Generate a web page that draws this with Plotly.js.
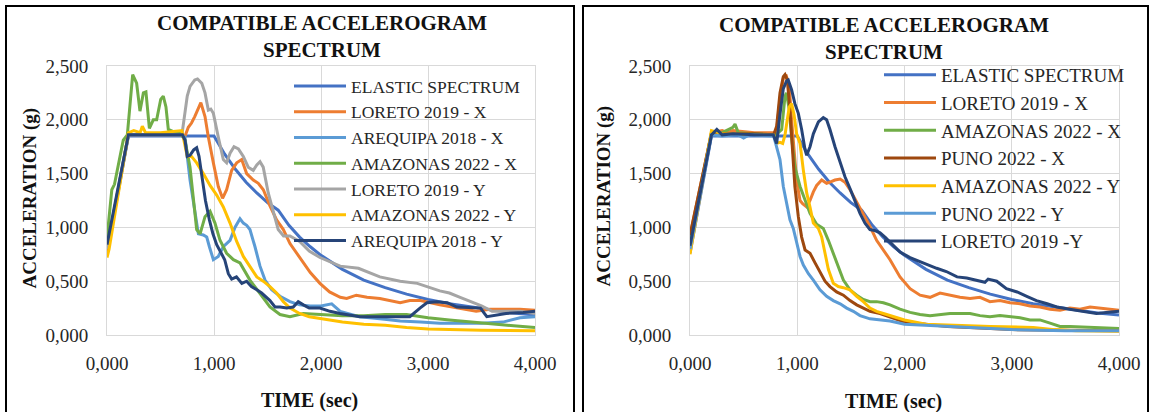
<!DOCTYPE html>
<html><head><meta charset="utf-8">
<script src="https://cdn.plot.ly/plotly-3.0.1.min.js"></script>
<style>html,body{margin:0;padding:0;background:#fff;} #chart{width:1152px;height:412px;}</style>
</head><body><div id="chart"></div>
<script>
// ---------- data (time in sec, acceleration in g) ----------
const elasticT = [0, 0.2, 1.0, 1.1, 1.2, 1.3, 1.4, 1.5, 1.6, 1.7, 1.8, 1.9, 2.0, 2.2, 2.4, 2.6, 2.8, 3.0, 3.2, 3.4, 3.6, 3.8, 4.0];
const elasticA = [0.76, 1.85, 1.85, 1.68, 1.54, 1.42, 1.32, 1.23, 1.16, 1.02, 0.91, 0.82, 0.74, 0.61, 0.51, 0.44, 0.38, 0.33, 0.29, 0.26, 0.23, 0.205, 0.185];

// left chart
const loretoXT_L = [0, 0.2, 0.7, 0.73, 0.76, 0.79, 0.82, 0.877, 0.916, 0.947, 0.994, 1.04, 1.08, 1.118, 1.165, 1.212, 1.259, 1.305, 1.367, 1.414, 1.461, 1.523, 1.585, 1.648, 1.71, 1.80, 1.90, 1.99, 2.08, 2.18, 2.24, 2.33, 2.43, 2.55, 2.74, 2.83, 2.93, 3.11, 3.30, 3.45, 3.58, 3.86, 4.0];
const loretoXA_L = [0.78, 1.86, 1.86, 1.85, 1.93, 1.97, 2.03, 2.16, 2.03, 1.84, 1.6, 1.38, 1.27, 1.35, 1.53, 1.6, 1.63, 1.5, 1.44, 1.41, 1.35, 1.2, 1.07, 0.98, 0.85, 0.72, 0.58, 0.48, 0.40, 0.35, 0.34, 0.37, 0.35, 0.34, 0.30, 0.32, 0.32, 0.28, 0.25, 0.22, 0.24, 0.24, 0.23];

const arequipaXT_L = [0, 0.2, 0.7, 0.729, 0.776, 0.82, 0.854, 0.9, 0.932, 0.957, 0.994, 1.04, 1.087, 1.15, 1.196, 1.243, 1.274, 1.305, 1.336, 1.383, 1.43, 1.477, 1.539, 1.617, 1.71, 1.80, 1.9, 2.0, 2.1, 2.18, 2.36, 2.55, 2.74, 2.93, 3.11, 3.3, 3.5, 3.7, 3.86, 4.0];
const arequipaXA_L = [0.8, 1.86, 1.86, 1.84, 1.44, 1.16, 0.94, 0.93, 0.91, 0.82, 0.70, 0.73, 0.82, 0.88, 1.0, 1.08, 1.04, 1.02, 0.98, 0.82, 0.64, 0.51, 0.42, 0.36, 0.31, 0.28, 0.27, 0.27, 0.29, 0.22, 0.17, 0.15, 0.13, 0.12, 0.11, 0.11, 0.11, 0.12, 0.16, 0.17];

const amazonasXT_L = [0, 0.045, 0.07, 0.152, 0.19, 0.24, 0.277, 0.308, 0.34, 0.364, 0.396, 0.433, 0.464, 0.502, 0.526, 0.551, 0.573, 0.62, 0.682, 0.729, 0.776, 0.807, 0.838, 0.87, 0.916, 0.963, 1.009, 1.056, 1.118, 1.181, 1.243, 1.336, 1.43, 1.523, 1.617, 1.71, 1.835, 2.0, 2.2, 2.4, 2.6, 2.8, 3.0, 3.2, 3.4, 3.6, 3.8, 4.0];
const amazonasXA_L = [0.9, 1.35, 1.40, 1.81, 1.86, 2.42, 2.34, 2.08, 2.25, 2.26, 1.92, 2.0, 2.0, 2.19, 2.22, 2.12, 1.91, 1.89, 1.88, 1.81, 1.56, 1.25, 0.98, 0.94, 1.10, 1.15, 1.04, 0.88, 0.76, 0.70, 0.67, 0.51, 0.39, 0.26, 0.19, 0.17, 0.20, 0.19, 0.18, 0.18, 0.19, 0.19, 0.16, 0.14, 0.12, 0.10, 0.085, 0.07];

const loretoYT_L = [0, 0.2, 0.7, 0.75, 0.776, 0.82, 0.846, 0.886, 0.916, 0.947, 0.97, 0.994, 1.04, 1.087, 1.118, 1.15, 1.187, 1.228, 1.274, 1.32, 1.367, 1.4, 1.43, 1.46, 1.507, 1.554, 1.6, 1.65, 1.71, 1.80, 1.89, 1.99, 2.18, 2.35, 2.55, 2.74, 2.9, 3.11, 3.2, 3.3, 3.5, 3.6, 3.86, 4.0];
const loretoYA_L = [0.8, 1.86, 1.86, 2.22, 2.31, 2.37, 2.38, 2.34, 2.25, 2.09, 2.1, 2.06, 1.84, 1.63, 1.6, 1.69, 1.75, 1.73, 1.66, 1.56, 1.53, 1.58, 1.61, 1.56, 1.32, 1.16, 0.98, 0.92, 0.92, 0.87, 0.78, 0.72, 0.64, 0.62, 0.54, 0.50, 0.48, 0.41, 0.39, 0.35, 0.27, 0.22, 0.22, 0.20];

const amazonasYT_L = [0, 0.02, 0.2, 0.25, 0.31, 0.33, 0.36, 0.5, 0.7, 0.75, 0.79, 0.838, 0.9, 0.963, 1.025, 1.087, 1.15, 1.212, 1.274, 1.336, 1.4, 1.46, 1.523, 1.585, 1.648, 1.71, 1.80, 1.89, 2.0, 2.2, 2.4, 2.6, 2.8, 3.0, 3.5, 4.0];
const amazonasYA_L = [0.72, 0.80, 1.88, 1.90, 1.88, 1.94, 1.88, 1.88, 1.90, 1.66, 1.66, 1.6, 1.5, 1.39, 1.3, 1.19, 1.04, 0.87, 0.73, 0.64, 0.54, 0.50, 0.45, 0.39, 0.31, 0.25, 0.20, 0.17, 0.15, 0.12, 0.10, 0.09, 0.07, 0.055, 0.045, 0.04];

const arequipaYT_L = [0, 0.2, 0.705, 0.729, 0.75, 0.776, 0.81, 0.838, 0.86, 0.89, 0.92, 0.957, 0.99, 1.025, 1.07, 1.1, 1.134, 1.165, 1.21, 1.26, 1.305, 1.35, 1.4, 1.445, 1.523, 1.57, 1.617, 1.68, 1.74, 1.787, 1.835, 1.89, 1.99, 2.084, 2.177, 2.364, 2.55, 2.738, 2.83, 2.925, 2.99, 3.08, 3.18, 3.27, 3.40, 3.49, 3.55, 3.61, 3.73, 3.89, 4.0];
const arequipaYA_L = [0.84, 1.86, 1.86, 1.81, 1.66, 1.67, 1.72, 1.74, 1.66, 1.47, 1.25, 1.07, 0.94, 0.84, 0.76, 0.70, 0.57, 0.52, 0.54, 0.48, 0.5, 0.45, 0.42, 0.39, 0.32, 0.26, 0.26, 0.25, 0.26, 0.31, 0.28, 0.25, 0.25, 0.22, 0.20, 0.17, 0.17, 0.17, 0.17, 0.25, 0.30, 0.31, 0.30, 0.26, 0.25, 0.25, 0.17, 0.18, 0.20, 0.21, 0.22];

// right chart
const loretoXT_R = [0, 0.2, 0.3, 0.35, 0.4, 0.6, 0.78, 0.802, 0.839, 0.87, 0.895, 0.926, 0.947, 0.97, 0.994, 1.026, 1.05, 1.088, 1.119, 1.15, 1.181, 1.228, 1.274, 1.305, 1.352, 1.4, 1.445, 1.492, 1.554, 1.616, 1.678, 1.74, 1.803, 1.865, 1.958, 2.052, 2.145, 2.238, 2.331, 2.424, 2.517, 2.611, 2.704, 2.797, 2.89, 2.984, 3.077, 3.17, 3.263, 3.357, 3.45, 3.543, 3.637, 3.73, 3.823, 3.917, 4.0];
const loretoXA_R = [0.92, 1.88, 1.9, 1.88, 1.9, 1.88, 1.88, 1.85, 2.19, 2.39, 2.42, 2.31, 2.0, 1.69, 1.44, 1.25, 1.22, 1.19, 1.25, 1.33, 1.39, 1.44, 1.41, 1.42, 1.44, 1.45, 1.42, 1.35, 1.24, 1.13, 1.01, 0.88, 0.79, 0.70, 0.54, 0.43, 0.37, 0.35, 0.39, 0.37, 0.35, 0.34, 0.35, 0.31, 0.32, 0.30, 0.29, 0.27, 0.26, 0.24, 0.23, 0.25, 0.24, 0.26, 0.25, 0.24, 0.23];

const amazonasXT_R = [0, 0.2, 0.3, 0.4, 0.42, 0.45, 0.6, 0.8, 0.855, 0.886, 0.9, 0.926, 0.947, 0.978, 1.026, 1.073, 1.119, 1.181, 1.243, 1.29, 1.336, 1.383, 1.43, 1.492, 1.554, 1.616, 1.678, 1.74, 1.803, 1.865, 1.958, 2.052, 2.145, 2.238, 2.331, 2.424, 2.517, 2.611, 2.704, 2.797, 2.89, 2.984, 3.077, 3.17, 3.263, 3.357, 3.45, 3.543, 3.73, 4.0];
const amazonasXA_R = [0.85, 1.88, 1.88, 1.93, 1.96, 1.88, 1.87, 1.86, 1.91, 2.22, 2.25, 2.09, 1.84, 1.56, 1.38, 1.25, 1.13, 1.03, 0.99, 0.88, 0.76, 0.64, 0.51, 0.42, 0.37, 0.33, 0.31, 0.31, 0.30, 0.28, 0.24, 0.21, 0.19, 0.18, 0.19, 0.2, 0.2, 0.2, 0.18, 0.17, 0.18, 0.17, 0.16, 0.14, 0.14, 0.11, 0.08, 0.08, 0.07, 0.06];

const punoXT_R = [0, 0.2, 0.4, 0.6, 0.78, 0.808, 0.839, 0.87, 0.886, 0.907, 0.932, 0.957, 0.978, 1.01, 1.041, 1.073, 1.119, 1.166, 1.212, 1.259, 1.305, 1.367, 1.43, 1.492, 1.554, 1.616, 1.678, 1.772, 1.865, 2.0, 2.2, 2.4, 2.6, 2.8, 3.0, 3.5, 4.0];
const punoXA_R = [0.93, 1.87, 1.87, 1.87, 1.86, 1.94, 2.25, 2.40, 2.42, 2.37, 2.09, 1.69, 1.38, 1.10, 0.91, 0.79, 0.76, 0.67, 0.58, 0.50, 0.45, 0.40, 0.37, 0.32, 0.28, 0.25, 0.22, 0.20, 0.17, 0.12, 0.10, 0.08, 0.07, 0.06, 0.05, 0.045, 0.04];

const amazonasYT_R = [0, 0.2, 0.3, 0.78, 0.808, 0.839, 0.864, 0.886, 0.907, 0.926, 0.947, 0.97, 0.994, 1.026, 1.057, 1.088, 1.119, 1.15, 1.197, 1.228, 1.259, 1.29, 1.336, 1.383, 1.43, 1.492, 1.554, 1.616, 1.678, 1.74, 1.803, 1.865, 2.0, 2.2, 2.4, 2.6, 2.8, 3.0, 3.2, 3.4, 3.6, 4.0];
const amazonasYA_R = [0.75, 1.9, 1.87, 1.86, 1.78, 1.79, 1.78, 1.86, 2.0, 2.12, 2.15, 2.05, 1.87, 1.78, 1.53, 1.32, 1.19, 1.04, 0.99, 0.91, 0.76, 0.61, 0.48, 0.45, 0.44, 0.42, 0.36, 0.31, 0.25, 0.22, 0.2, 0.18, 0.14, 0.10, 0.09, 0.085, 0.08, 0.075, 0.07, 0.05, 0.04, 0.035];

const punoYT_R = [0, 0.2, 0.3, 0.45, 0.5, 0.55, 0.78, 0.808, 0.839, 0.87, 0.9, 0.932, 0.963, 0.994, 1.026, 1.057, 1.104, 1.15, 1.212, 1.274, 1.336, 1.4, 1.461, 1.523, 1.585, 1.678, 1.772, 1.865, 2.0, 2.2, 2.5, 3.0, 3.5, 4.0];
const punoYA_R = [0.8, 1.86, 1.85, 1.86, 1.83, 1.86, 1.85, 1.75, 1.63, 1.38, 1.22, 1.07, 0.99, 0.85, 0.73, 0.65, 0.57, 0.51, 0.42, 0.36, 0.32, 0.29, 0.25, 0.22, 0.18, 0.15, 0.14, 0.13, 0.10, 0.09, 0.07, 0.05, 0.04, 0.04];

const loretoYT_R = [0, 0.2, 0.25, 0.3, 0.4, 0.6, 0.777, 0.808, 0.839, 0.87, 0.9, 0.916, 0.947, 0.978, 1.01, 1.041, 1.073, 1.088, 1.119, 1.15, 1.197, 1.243, 1.274, 1.305, 1.352, 1.4, 1.445, 1.492, 1.539, 1.585, 1.632, 1.678, 1.725, 1.772, 1.818, 1.865, 1.958, 2.052, 2.145, 2.207, 2.3, 2.39, 2.49, 2.58, 2.67, 2.75, 2.78, 2.86, 2.95, 3.05, 3.14, 3.23, 3.33, 3.42, 3.54, 3.67, 3.79, 3.88, 4.0];
const loretoYA_R = [0.83, 1.86, 1.91, 1.86, 1.87, 1.86, 1.86, 1.78, 2.05, 2.29, 2.36, 2.37, 2.28, 2.15, 2.06, 1.91, 1.72, 1.67, 1.75, 1.87, 1.98, 2.02, 2.0, 1.91, 1.75, 1.6, 1.47, 1.36, 1.25, 1.13, 1.04, 0.98, 0.97, 0.95, 0.91, 0.86, 0.77, 0.72, 0.68, 0.66, 0.62, 0.59, 0.54, 0.53, 0.51, 0.49, 0.52, 0.50, 0.43, 0.40, 0.36, 0.32, 0.29, 0.26, 0.24, 0.22, 0.20, 0.21, 0.22];

// labels
const chartTitle = 'COMPATIBLE ACCELEROGRAM<br>SPECTRUM';
const xTitle = 'TIME (sec)';
const yTitle = 'ACCELERATION (g)';

const leftSeries = [
  ['ELASTIC SPECTRUM', elasticT, elasticA, '#4472C4'],
  ['LORETO 2019 - X', loretoXT_L, loretoXA_L, '#ED7D31'],
  ['AREQUIPA 2018 - X', arequipaXT_L, arequipaXA_L, '#5B9BD5'],
  ['AMAZONAS 2022 - X', amazonasXT_L, amazonasXA_L, '#70AD47'],
  ['LORETO 2019 - Y', loretoYT_L, loretoYA_L, '#A5A5A5'],
  ['AMAZONAS 2022 - Y', amazonasYT_L, amazonasYA_L, '#FFC000'],
  ['AREQUIPA 2018 - Y', arequipaYT_L, arequipaYA_L, '#264478']
];
const rightSeries = [
  ['ELASTIC SPECTRUM', elasticT, elasticA, '#4472C4'],
  ['LORETO 2019 - X', loretoXT_R, loretoXA_R, '#ED7D31'],
  ['AMAZONAS 2022 - X', amazonasXT_R, amazonasXA_R, '#70AD47'],
  ['PUNO 2022 - X', punoXT_R, punoXA_R, '#9E480E'],
  ['AMAZONAS 2022 - Y', amazonasYT_R, amazonasYA_R, '#FFC000'],
  ['PUNO 2022 - Y', punoYT_R, punoYA_R, '#5B9BD5'],
  ['LORETO 2019 -Y', loretoYT_R, loretoYA_R, '#264478']
];

const FONT = 'Liberation Serif, Times New Roman, serif';
const W = 1152, H = 412;
const px = v => v / W, py = v => (H - v) / H;

const traces = [];
leftSeries.forEach(s => traces.push({type:'scatter', mode:'lines', name:s[0], x:s[1], y:s[2],
  line:{color:s[3], width:3}, xaxis:'x', yaxis:'y', legend:'legend', hoverinfo:'skip'}));
rightSeries.forEach(s => traces.push({type:'scatter', mode:'lines', name:s[0], x:s[1], y:s[2],
  line:{color:s[3], width:3}, xaxis:'x2', yaxis:'y2', legend:'legend2', hoverinfo:'skip'}));

const xBase = {range:[0,4], dtick:1, tick0:0, tickformat:'.3f', showgrid:true, gridcolor:'#d9d9d9', gridwidth:1,
  zeroline:false, showline:true, linecolor:'#d9d9d9', linewidth:1, mirror:true, ticks:'', ticklabelstandoff:11,
  tickfont:{family:FONT, size:19, color:'#262626'}, fixedrange:true};
const yBase = {range:[0,2.5], dtick:0.5, tick0:0, tickformat:'.3f', showgrid:true, gridcolor:'#d9d9d9', gridwidth:1,
  zeroline:false, showline:true, linecolor:'#d9d9d9', linewidth:1, mirror:true, ticks:'', ticklabelstandoff:14,
  tickfont:{family:FONT, size:19, color:'#262626'}, fixedrange:true};

const legBase = {xanchor:'left', yanchor:'top', bgcolor:'rgba(0,0,0,0)', borderwidth:0, itemwidth:52,
  tracegroupgap:0, traceorder:'normal'};

const titleFont = {family:FONT, size:21, color:'#111', weight:'bold'};
const axTitleFont = {family:FONT, size:19, color:'#111', weight:'bold'};

const layout = {
  width:W, height:H, margin:{l:0,r:0,t:0,b:0}, paper_bgcolor:'#fff', plot_bgcolor:'#fff',
  separators:',.', showlegend:true, font:{family:FONT, size:19, color:'#262626'},
  xaxis:Object.assign({}, xBase, {domain:[px(107), px(535)], anchor:'y'}),
  yaxis:Object.assign({}, yBase, {domain:[py(335), py(66)], anchor:'x'}),
  xaxis2:Object.assign({}, xBase, {domain:[px(690), px(1119)], anchor:'y2'}),
  yaxis2:Object.assign({}, yBase, {domain:[py(335), py(66)], anchor:'x2'}),
  legend:Object.assign({}, legBase, {x:px(289), y:py(68), font:{family:FONT, size:17.5, color:'#262626'}}),
  legend2:Object.assign({}, legBase, {x:px(879), y:py(56), font:{family:FONT, size:19, color:'#262626'}}),
  annotations:[
    {text:chartTitle, xref:'paper', yref:'paper', x:px(322), y:py(37), xanchor:'center', yanchor:'middle', showarrow:false, font:titleFont},
    {text:chartTitle, xref:'paper', yref:'paper', x:px(884), y:py(38.5), xanchor:'center', yanchor:'middle', showarrow:false, font:titleFont},
    {text:yTitle, xref:'paper', yref:'paper', x:px(30), y:py(198.5), xanchor:'center', yanchor:'middle', textangle:-90, showarrow:false, font:axTitleFont},
    {text:yTitle, xref:'paper', yref:'paper', x:px(604), y:py(196.5), xanchor:'center', yanchor:'middle', textangle:-90, showarrow:false, font:axTitleFont},
    {text:xTitle, xref:'paper', yref:'paper', x:px(309), y:py(400), xanchor:'center', yanchor:'middle', showarrow:false, font:Object.assign({}, axTitleFont, {size:20})},
    {text:xTitle, xref:'paper', yref:'paper', x:px(893), y:py(401), xanchor:'center', yanchor:'middle', showarrow:false, font:Object.assign({}, axTitleFont, {size:20})}
  ],
  shapes:[
    {type:'rect', xref:'paper', yref:'paper', x0:px(6), x1:px(574), y0:-0.1, y1:py(6), line:{color:'#000', width:2}, layer:'above'},
    {type:'rect', xref:'paper', yref:'paper', x0:px(583), x1:px(1148), y0:-0.1, y1:py(6), line:{color:'#000', width:2}, layer:'above'}
  ]
};

Plotly.newPlot('chart', traces, layout, {staticPlot:true, displayModeBar:false});
</script></body></html>
